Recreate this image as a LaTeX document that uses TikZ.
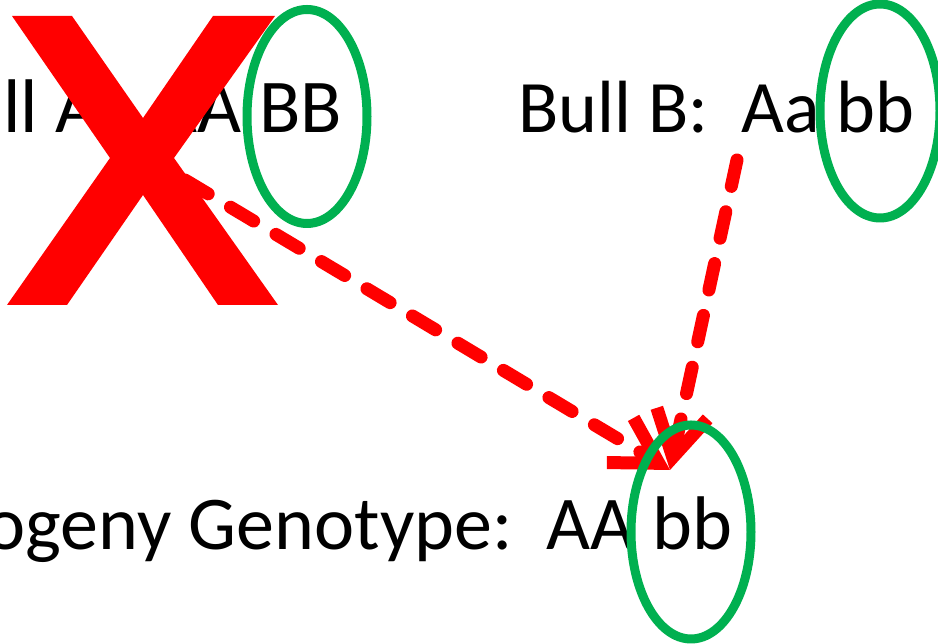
\documentclass[tikz,border=0pt]{standalone}
\usepackage{fontspec}
\setmainfont{Carlito}
\usetikzlibrary{arrows.meta,shapes.geometric}
\definecolor{xred}{RGB}{255,0,0}
\definecolor{ringgreen}{RGB}{0,176,80}
\begin{document}
\begin{tikzpicture}[x=1pt,y=1pt,
  lbl/.style={font=\fontsize{76}{90}\selectfont, inner sep=0pt, text=black},
  ring/.style={draw=ringgreen, line width=9pt, ellipse, inner sep=0pt,
    minimum width=120pt, minimum height=214pt},
  cross/.style={draw=xred, line width=13pt, line cap=round,
    dash pattern=on 27pt off 26pt,
    -{Straight Barb[length=45pt,width=52pt]}}]
\clip (0,0) rectangle (938,644);
\node[lbl, anchor=base east] (bullA) at (342,511) {Bull A:\ \ AA BB};
\node[lbl, anchor=base east, font=\fontsize{74}{88}\selectfont] (bullB) at (915,511) {Bull B:\ \ Aa bb};
\node[lbl, anchor=base east] (prog) at (732,94) {Progeny Genotype:\ \ AA bb};
\coordinate (s1) at (185,464);
\coordinate (s2) at (737,484);
\coordinate (tip) at (670,174);
\draw[cross] (s1) -- (tip);
\draw[cross] (s2) -- (tip);
\fill[xred] (12,628) -- (72,628) -- (143,526) -- (213,628) -- (275,628)
  -- (174,486) -- (278,339) -- (218,339) -- (143,449) -- (67,339)
  -- (7,339) -- (110,486) -- cycle;
\node[ring] (r1) at (307,527.5) {};
\node[ring] (r2) at (880,533) {};
\node[ring] (r3) at (691,112) {};
\end{tikzpicture}
\end{document}
